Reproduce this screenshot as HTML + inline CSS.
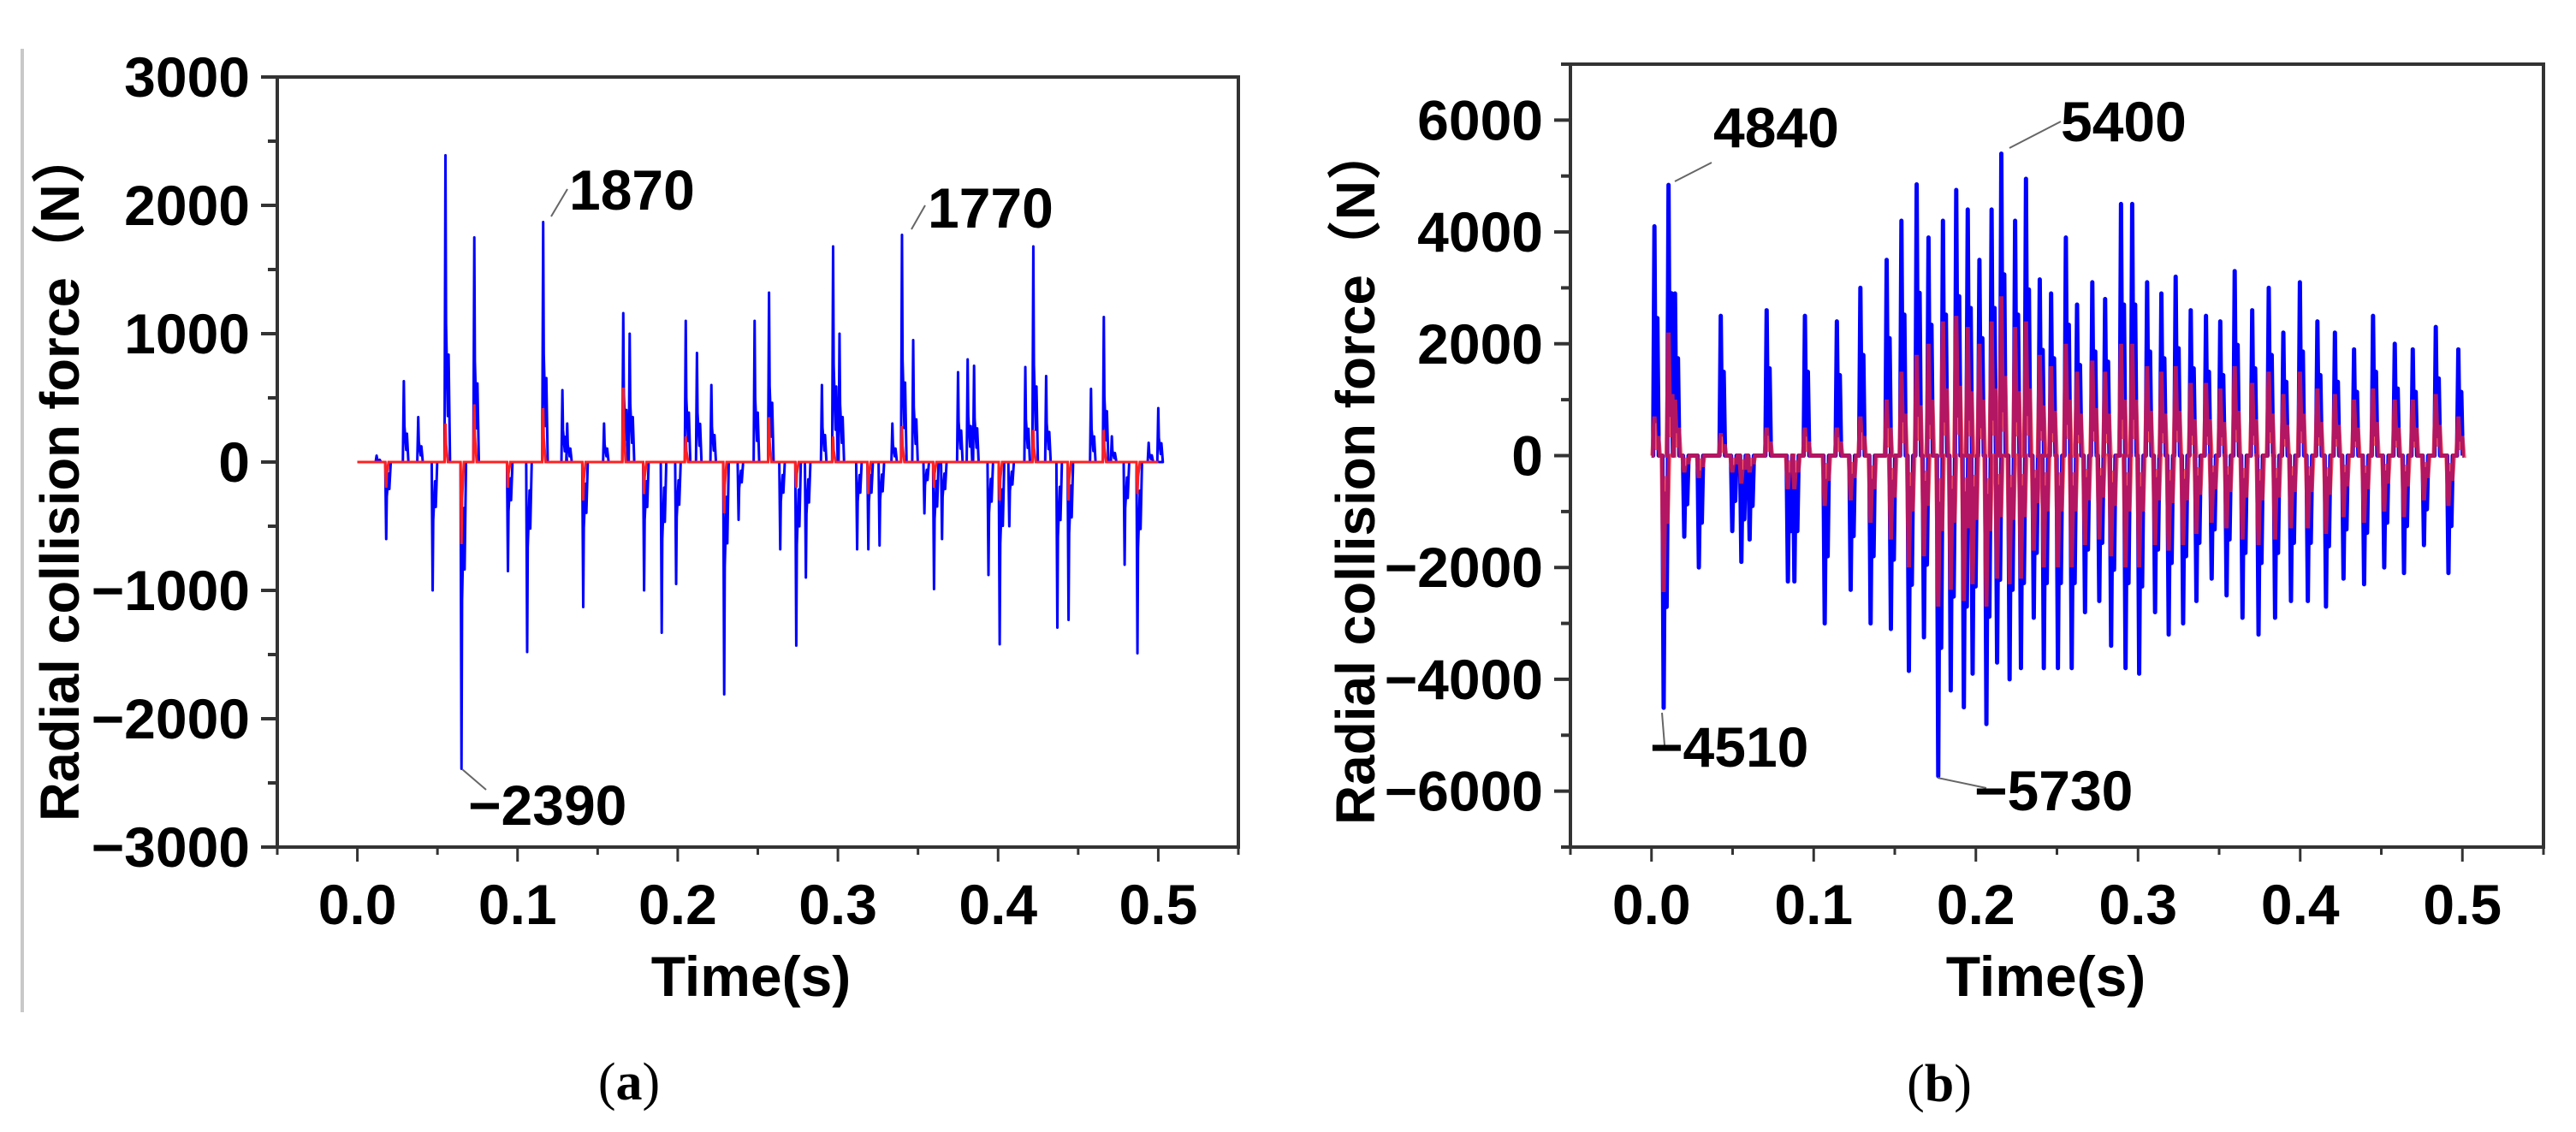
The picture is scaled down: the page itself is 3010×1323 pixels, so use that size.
<!DOCTYPE html>
<html><head><meta charset="utf-8">
<style>
html,body{margin:0;padding:0;background:#fff;}
svg{display:block;}
.tk{font-family:"Liberation Sans",sans-serif;font-weight:bold;font-size:66px;fill:#000;}
.cap{font-family:"Liberation Serif",serif;font-size:62px;fill:#000;}
</style></head>
<body>
<svg id="fig" width="3010" height="1323" viewBox="0 0 3010 1323" xmlns="http://www.w3.org/2000/svg">
<line x1="26" y1="57" x2="26" y2="1183" stroke="#c8c8c8" stroke-width="4"/>
<g id="chartA"></g>
<g id="chartB"></g>
<text class="cap" x="735" y="1285" text-anchor="middle">(<tspan font-weight="bold">a</tspan>)</text>
<text class="cap" x="2266" y="1287" text-anchor="middle">(<tspan font-weight="bold">b</tspan>)</text>
</svg>
<script>
// ---------- Chart (a) data ----------
const aBlueTimes = [0.012,0.018,0.029,0.038,0.047,0.055,0.065,0.073,0.094,0.106,0.116,0.128,0.131,0.141,0.154,0.166,0.170,0.179,0.190,0.199,0.205,0.212,0.221,0.229,0.238,0.248,0.257,0.264,0.274,0.280,0.290,0.297,0.301,0.312,0.319,0.326,0.334,0.340,0.347,0.354,0.360,0.365,0.375,0.381,0.385,0.394,0.401,0.407,0.417,0.422,0.430,0.437,0.444,0.458,0.466,0.471,0.479,0.487,0.494,0.500];
const aBlueValues = [50,-600,630,350,-1000,2390,-2390,1750,-850,-1480,1870,560,300,-1130,300,1160,1000,-1000,-1330,-950,1100,850,600,-1810,-450,1100,1320,-680,-1430,-900,600,1680,1000,-680,-680,-650,300,1770,950,-400,-990,-600,700,800,750,-880,-1420,-500,740,1680,670,-1290,-1230,570,1130,200,-800,-1490,150,420];
const aRedTimes = [0.018,0.055,0.065,0.073,0.094,0.116,0.141,0.166,0.179,0.205,0.229,0.257,0.274,0.297,0.319,0.340,0.360,0.401,0.422,0.444,0.466,0.487];
const aRedValues = [-200,300,-640,450,-200,420,-300,580,-250,200,-400,350,-200,200,-250,280,-200,-300,250,-300,250,-250];
const aYTicks = [-3000,-2000,-1000,0,1000,2000,3000];
const aXTicks = [0.0,0.1,0.2,0.3,0.4,0.5];
const aXTickLabels = ["0.0","0.1","0.2","0.3","0.4","0.5"];
const aNotes = [[0.116,1870,"1870"],[0.340,1770,"1770"],[0.065,-2390,"\u22122390"]];

// ---------- Chart (b) data ----------
const bPosTimes = [0.0018,0.0105,0.0145,0.0427,0.0710,0.0946,0.1143,0.1288,0.1450,0.1541,0.1635,0.1708,0.1797,0.1879,0.1950,0.2022,0.2097,0.2157,0.2242,0.2309,0.2394,0.2464,0.2555,0.2624,0.2718,0.2797,0.2895,0.2964,0.3056,0.3144,0.3232,0.3325,0.3419,0.3507,0.3596,0.3704,0.3806,0.3896,0.3998,0.4106,0.4214,0.4332,0.4449,0.4583,0.4694,0.4836,0.4975];
const bPosValues = [4100,4840,2900,2500,2600,2500,2400,3000,3500,4200,4850,3900,4200,4750,4400,3500,4400,5400,4200,4950,3150,2900,3900,2700,3100,2800,4500,4500,3100,2900,3200,2600,2500,2400,3300,2600,3000,2200,3100,2400,2200,1900,2500,2000,1900,2300,1900];
const bNegTimes = [0.0075,0.0202,0.0292,0.0498,0.0554,0.0605,0.0841,0.0881,0.1068,0.1228,0.1351,0.1476,0.1587,0.1680,0.1768,0.1845,0.1926,0.1980,0.2065,0.2131,0.2208,0.2278,0.2357,0.2419,0.2506,0.2591,0.2673,0.2761,0.2834,0.2923,0.3007,0.3105,0.3189,0.3278,0.3360,0.3454,0.3546,0.3644,0.3743,0.3845,0.3943,0.4047,0.4159,0.4267,0.4394,0.4518,0.4640,0.4763,0.4914];
const bNegValues = [-4510,-1450,-2000,-1350,-1900,-1500,-2250,-2250,-3000,-2400,-3000,-3100,-3850,-3250,-5730,-4200,-4500,-3900,-4800,-3700,-4000,-3800,-2900,-3800,-3800,-3800,-2800,-2600,-3400,-3800,-3900,-2800,-3200,-3000,-2600,-2200,-2500,-2900,-3200,-2900,-2600,-2600,-2700,-2200,-2300,-2000,-2100,-1600,-2100];
const bRedPosValues = [700,2200,1000,400,500,500,500,700,1000,1500,1800,2000,2400,2500,2300,2000,2400,2850,2300,2400,1800,1600,2000,1500,1700,1500,2000,2000,1600,1500,1600,1300,1300,1200,1600,1300,1500,1100,1500,1200,1100,1000,1200,1000,1000,1100,700];
const bRedNegValues = [-2440,-300,-400,-300,-500,-300,-600,-600,-900,-800,-1200,-1500,-2000,-1800,-2700,-2400,-2600,-2300,-2700,-2200,-2300,-2200,-1700,-2000,-2000,-2000,-1600,-1500,-1800,-2000,-2000,-1600,-1700,-1600,-1400,-1200,-1300,-1500,-1600,-1500,-1300,-1300,-1400,-1100,-1200,-1000,-1100,-800,-900];
const bYTicks = [-6000,-4000,-2000,0,2000,4000,6000];
const bXTicks = [0.0,0.1,0.2,0.3,0.4,0.5];
const bXTickLabels = ["0.0","0.1","0.2","0.3","0.4","0.5"];

const NS = "http://www.w3.org/2000/svg";
function mk(tag, attrs, parent){
  const e = document.createElementNS(NS, tag);
  for (const k in attrs) e.setAttribute(k, attrs[k]);
  parent.appendChild(e);
  return e;
}
function scale(d0,d1,r0,r1){ return v => r0 + (v-d0)/(d1-d0)*(r1-r0); }

function frame(g, L, T, R, B, xs, ys, xTicks, xLabels, xMinor, yTicks, yMinor, labelX, labelLen, labelTop){
  const box = mk('rect',{x:L,y:T,width:R-L,height:B-T,fill:'none',stroke:'#333',"stroke-width":4},g);
  
  
  xMinor.forEach(t=>{
    const l = mk('line',{x1:xs(t),x2:xs(t),y1:B,y2:B+9,stroke:'#333',"stroke-width":3},g);
    
    
  });
  xTicks.forEach((t,i)=>{
    const l = mk('line',{x1:xs(t),x2:xs(t),y1:B,y2:B+17,stroke:'#333',"stroke-width":3},g);
    
    
    const tx = mk('text',{x:xs(t),y:B+90,"text-anchor":"middle",class:"tk"},g);
    tx.textContent = xLabels[i];
    
    
  });
  yMinor.forEach(v=>{
    const l = mk('line',{x1:L-11,x2:L,y1:ys(v),y2:ys(v),stroke:'#333',"stroke-width":4},g);
    
    
  });
  yTicks.forEach(v=>{
    const l = mk('line',{x1:L-19,x2:L,y1:ys(v),y2:ys(v),stroke:'#333',"stroke-width":4},g);
    
    
    const tx = mk('text',{x:L-32,y:ys(v)+23,"text-anchor":"end",class:"tk"},g);
    tx.textContent = v<0 ? '\u2212'+Math.abs(v) : String(v);
    
    
  });
  const cx = (xs(0)+xs(0.5))/2 + (L===324?-8:-13);
  const xt = mk('text',{x:cx,y:B+174,"text-anchor":"middle",class:"tk"},g);
  xt.textContent = 'Time(s)';
  
  
  const bottom = labelTop + labelLen;
  const yt = mk('text',{x:0,y:0,class:"tk",transform:`translate(${labelX},${bottom}) rotate(-90)`,textLength:labelLen,lengthAdjust:"spacingAndGlyphs"},g);
  yt.setAttribute('style','font-family:"Liberation Sans","Noto Sans CJK SC",sans-serif;font-size:64px;');
  yt.textContent = 'Radial collision force\uFF08N\uFF09';
  
  
}

function spikePath(times, vals, xs, ys, w1, w2, echo){
  const ev = times.map((t,i)=>[t, vals[i]]).sort((a,b)=>a[0]-b[0]);
  let d = `M${xs(0)},${ys(0)}`;
  ev.forEach(([t,v])=>{
    d += ` L${xs(t-w1)},${ys(0)} L${xs(t)},${ys(v)} L${xs(t+w1*0.6)},${ys(v*0.45)}`;
    if (echo) d += ` L${xs(t+w2)},${ys(v*0.15)} L${xs(t+w2*1.3)},${ys(v*echo)} L${xs(t+w2*1.9)},${ys(0)}`;
    else d += ` L${xs(t+w2)},${ys(0)}`;
  });
  d += ` L${xs(0.5)},${ys(0)}`;
  return d;
}

function note(g, px, py, x1,y1,x2,y2, tx, ty, txt){
  const l = mk('line',{x1:x1,y1:y1,x2:x2,y2:y2,stroke:'#666',"stroke-width":2},g);
  
  
  const t = mk('text',{x:tx,y:ty,class:"tk"},g);
  t.textContent = txt;
  
  
}

// ---- chart A ----
(function(){
  const g = document.getElementById('chartA');
  const L=324,T=90,R=1447,B=990;
  const xs = scale(-0.05,0.55,L,R), ys = scale(-3000,3000,B,T);
  const xMinor=[], yMinor=[];
  for(let i=-1;i<=11;i+=2) xMinor.push(i*0.05);
  for(let v=-2500;v<=2500;v+=1000) yMinor.push(v);
  frame(g,L,T,R,B,xs,ys,aXTicks,aXTickLabels,xMinor,aYTicks,yMinor,92,808,152);
  const blue = mk('path',{d:spikePath(aBlueTimes,aBlueValues,xs,ys,0.0006,0.0015,0.35),fill:'none',stroke:'#0000ff',"stroke-width":3,"stroke-linejoin":"round"},g);
  
  
  const red = mk('path',{d:spikePath(aRedTimes,aRedValues,xs,ys,0.0006,0.0015,0),fill:'none',stroke:'#ff2020',"stroke-width":3},g);
  
  
  note(g,0,0,644,253,663,221,665,245,aNotes[0][2]);
  note(g,0,0,1065,268,1081,240,1084,266,aNotes[1][2]);
  note(g,0,0,540,899,568,923,547,964,aNotes[2][2]);
})();

// ---- chart B ----
(function(){
  const g = document.getElementById('chartB');
  const L=1835,T=75,R=2972,B=990;
  const xs = scale(-0.05,0.55,L,R), ys = scale(-7000,7000,B,T);
  const xMinor=[], yMinor=[];
  for(let i=-1;i<=11;i+=2) xMinor.push(i*0.05);
  for(let v=-7000;v<=7000;v+=2000) yMinor.push(v);
  frame(g,L,T,R,B,xs,ys,bXTicks,bXTickLabels,xMinor,bYTicks,yMinor,1606,817,147);
  const blue = mk('path',{d:spikePath(bPosTimes.concat(bNegTimes),bPosValues.concat(bNegValues),xs,ys,0.0008,0.0014,0.6),fill:'none',stroke:'#0000ff',"stroke-width":5,"stroke-linejoin":"round"},g);
  
  
  const red = mk('path',{d:spikePath(bPosTimes.concat(bNegTimes),bRedPosValues.concat(bRedNegValues),xs,ys,0.0012,0.0018,0.5),fill:'none',stroke:'#ff2020',"stroke-width":5,opacity:0.7},g);
  
  
  note(g,0,0,1957,212,2000,190,2002,172,'4840');
  note(g,0,0,2348,173,2408,142,2408,165,'5400');
  note(g,0,0,1942,833,1945,871,1928,896,'\u22124510');
  note(g,0,0,2264,909,2321,921,2307,947,'\u22125730');
})();
</script>
</body></html>
